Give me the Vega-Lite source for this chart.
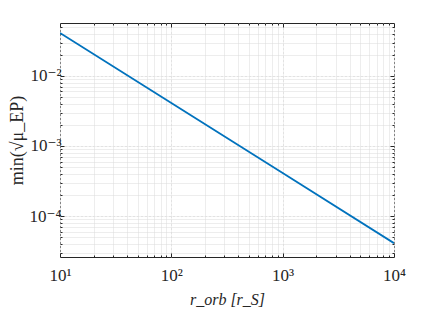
{
  "$schema": "https://vega.github.io/schema/vega-lite/v6.json",
  "width": 334,
  "height": 234,
  "autosize": {"type": "none"},
  "padding": {"left": 60, "top": 23, "right": 42, "bottom": 56},
  "background": "white",
  "config": {
    "view": {"stroke": "#262626", "strokeWidth": 1},
    "font": "Liberation Serif, DejaVu Serif",
    "axis": {
      "labelFont": "Liberation Serif, DejaVu Serif",
      "titleFont": "Liberation Serif, DejaVu Serif",
      "labelFontSize": 17,
      "titleFontSize": 16,
      "titleFontWeight": "normal",
      "labelColor": "#262626",
      "titleColor": "#262626",
      "domain": false,
      "tickColor": "#262626",
      "labelOverlap": false,
      "labelFlush": false,
      "gridWidth": 1
    }
  },
  "data": {
    "values": [
      {"r": 10, "mu": 0.041},
      {"r": 100, "mu": 0.0041},
      {"r": 1000, "mu": 0.00041},
      {"r": 10000, "mu": 0.000041}
    ]
  },
  "resolve": {"axis": {"x": "independent", "y": "independent"}},
  "layer": [
    {
      "mark": {"type": "line", "color": "#0072BD", "strokeWidth": 1.8, "clip": true},
      "encoding": {
        "x": {
          "field": "r", "type": "quantitative",
          "scale": {"type": "log", "domain": [10, 10000], "nice": false},
          "axis": {
            "orient": "bottom",
            "title": "r_orb [r_S]",
            "titleFontStyle": "italic",
            "titlePadding": 6,
            "values": [10,20,30,40,50,60,70,80,90,100,200,300,400,500,600,700,800,900,1000,2000,3000,4000,5000,6000,7000,8000,9000,10000],
            "labelExpr": "datum.value==10?'10¹':datum.value==100?'10²':datum.value==1000?'10³':datum.value==10000?'10⁴':''",
            "labelPadding": 14,
            "tickSize": {"condition": {"test": "indexof([10,100,1000,10000], datum.value) >= 0", "value": -4}, "value": -2},
            "grid": true,
            "gridColor": {"condition": {"test": "indexof([10,100,1000,10000], datum.value) >= 0", "value": "#e2e2e2"}, "value": "#dadada"},
            "gridDash": {"condition": {"test": "indexof([10,100,1000,10000], datum.value) >= 0", "value": [3, 1]}, "value": [1, 1]}
          }
        },
        "y": {
          "field": "mu", "type": "quantitative",
          "scale": {"type": "log", "domain": [0.000026, 0.057], "nice": false},
          "axis": {
            "orient": "left",
            "title": "min(√μ_EP)",
            "titleFontSize": 18,
            "titlePadding": 3,
            "values": [0.00003,0.00004,0.00005,0.00006,0.00007,0.00008,0.00009,0.0001,0.0002,0.0003,0.0004,0.0005,0.0006,0.0007,0.0008,0.0009,0.001,0.002,0.003,0.004,0.005,0.006,0.007,0.008,0.009,0.01,0.02,0.03,0.04,0.05],
            "labelExpr": "datum.value==0.01?'10⁻²':datum.value==0.001?'10⁻³':datum.value==0.0001?'10⁻⁴':''",
            "labelPadding": 3,
            "tickSize": {"condition": {"test": "indexof([0.0001,0.001,0.01], datum.value) >= 0", "value": -4}, "value": -2},
            "grid": true,
            "gridColor": {"condition": {"test": "indexof([0.0001,0.001,0.01], datum.value) >= 0", "value": "#e2e2e2"}, "value": "#dadada"},
            "gridDash": {"condition": {"test": "indexof([0.0001,0.001,0.01], datum.value) >= 0", "value": [3, 1]}, "value": [1, 1]}
          }
        }
      }
    },
    {
      "mark": {"type": "line", "opacity": 0, "clip": true},
      "encoding": {
        "x": {
          "field": "r", "type": "quantitative",
          "scale": {"type": "log", "domain": [10, 10000], "nice": false},
          "axis": {
            "orient": "top",
            "title": null,
            "labels": false,
            "grid": false,
            "values": [10,20,30,40,50,60,70,80,90,100,200,300,400,500,600,700,800,900,1000,2000,3000,4000,5000,6000,7000,8000,9000,10000],
            "tickSize": {"condition": {"test": "indexof([10,100,1000,10000], datum.value) >= 0", "value": -4}, "value": -2}
          }
        },
        "y": {
          "field": "mu", "type": "quantitative",
          "scale": {"type": "log", "domain": [0.000026, 0.057], "nice": false},
          "axis": {
            "orient": "right",
            "title": null,
            "labels": false,
            "grid": false,
            "values": [0.00003,0.00004,0.00005,0.00006,0.00007,0.00008,0.00009,0.0001,0.0002,0.0003,0.0004,0.0005,0.0006,0.0007,0.0008,0.0009,0.001,0.002,0.003,0.004,0.005,0.006,0.007,0.008,0.009,0.01,0.02,0.03,0.04,0.05],
            "tickSize": {"condition": {"test": "indexof([0.0001,0.001,0.01], datum.value) >= 0", "value": -4}, "value": -2}
          }
        }
      }
    }
  ]
}
